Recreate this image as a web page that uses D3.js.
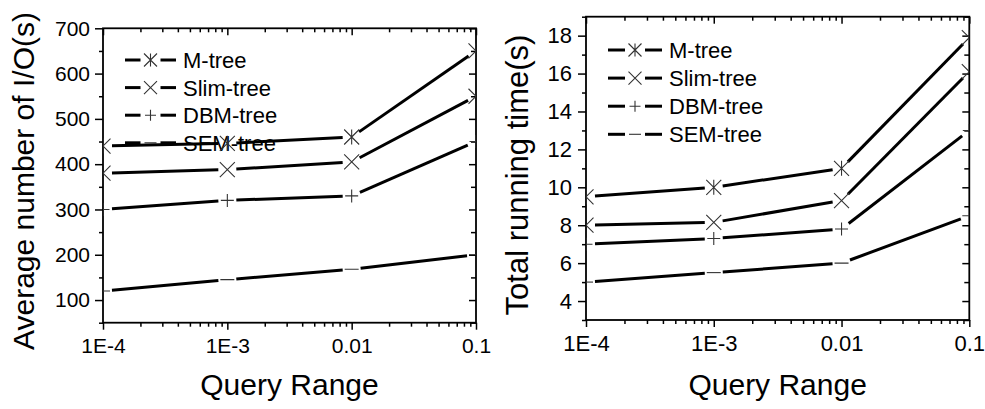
<!DOCTYPE html>
<html>
<head>
<meta charset="utf-8">
<script src="https://cdn.jsdelivr.net/npm/d3@7"></script>
<style>
  body { margin: 0; background: #fff; }
  svg { font-family: 'Liberation Sans', Arial, sans-serif; }
  .axis text { fill: #000; }
  .axis line { stroke: #000; stroke-width: 1.5; }
  .axis path { display: none; }
</style>
</head>
<body>
<div id="chart"></div>
<script>
// data
var queryRange = [1e-4, 1e-3, 0.01, 0.1];
var xTickLabels = ['1E-4', '1E-3', '0.01', '0.1'];
var seriesNames = ['M-tree', 'Slim-tree', 'DBM-tree', 'SEM-tree'];

var ioMtree = [440, 446, 460, 650];
var ioSlim = [380, 388, 405, 550];
var ioDbm = [300, 320, 330, 450];
var ioSem = [120, 145, 168, 200];
var ioTicks = [100, 200, 300, 400, 500, 600, 700];

var timeMtree = [9.5, 10.0, 11.0, 17.9];
var timeSlim = [8.0, 8.15, 9.3, 16.1];
var timeDbm = [7.0, 7.3, 7.8, 13.0];
var timeSem = [5.0, 5.5, 6.0, 8.5];
var timeTicks = [4, 6, 8, 10, 12, 14, 16, 18];

var svg = d3.select('#chart').append('svg')
  .attr('width', 985)
  .attr('height', 409);

// marker shapes, r = half size
var markers = {
  star: function (r) {
    return 'M' + (-r) + ',' + (-r) + 'L' + r + ',' + r +
      'M' + (-r) + ',' + r + 'L' + r + ',' + (-r) +
      'M0,' + (-r) + 'L0,' + r;
  },
  cross: function (r) {
    return 'M' + (-r) + ',' + (-r) + 'L' + r + ',' + r +
      'M' + (-r) + ',' + r + 'L' + r + ',' + (-r);
  },
  plus: function (r) {
    return 'M' + (-r) + ',0L' + r + ',0M0,' + (-r) + 'L0,' + r;
  },
  dash: function (r) {
    return 'M' + (-r) + ',0L' + r + ',0';
  },
};
var markerKinds = ['star', 'cross', 'plus', 'dash'];
var markerSizes = [7.5, 7.5, 6.5, 7];

// minor tick values on the log axis
var xMinor = [];
queryRange.slice(0, 3).forEach(function (d) {
  for (var k = 2; k <= 9; k++) xMinor.push(d * k);
});

function drawChart(cfg) {
  var x = d3.scaleLog().domain([1e-4, 0.1]).range([cfg.left, cfg.right]);
  var y = d3.scaleLinear().domain(cfg.yDomain).range([cfg.bottom, cfg.top]);
  var g = svg.append('g');
  var w = cfg.right - cfg.left;
  var h = cfg.bottom - cfg.top;

  var clipId = 'clip' + cfg.id;
  svg.append('clipPath').attr('id', clipId)
    .append('rect')
    .attr('x', cfg.left).attr('y', cfg.top)
    .attr('width', w).attr('height', h);

  // bottom axis (ticks outward) with labels
  g.append('g')
    .attr('class', 'axis')
    .attr('transform', 'translate(0,' + cfg.bottom + ')')
    .call(d3.axisBottom(x).tickValues(queryRange).tickSize(7).tickPadding(8)
      .tickFormat(function (d, i) { return xTickLabels[i]; }))
    .selectAll('text').style('font-size', cfg.tickFont + 'px');
  g.append('g')
    .attr('class', 'axis')
    .attr('transform', 'translate(0,' + cfg.bottom + ')')
    .call(d3.axisBottom(x).tickValues(xMinor).tickSize(4).tickFormat(''));

  // top axis (ticks inward)
  g.append('g')
    .attr('class', 'axis')
    .attr('transform', 'translate(0,' + cfg.top + ')')
    .call(d3.axisTop(x).tickValues(queryRange).tickSize(-7).tickFormat(''));
  g.append('g')
    .attr('class', 'axis')
    .attr('transform', 'translate(0,' + cfg.top + ')')
    .call(d3.axisTop(x).tickValues(xMinor).tickSize(-4).tickFormat(''));

  // left axis (ticks outward) with labels
  g.append('g')
    .attr('class', 'axis')
    .attr('transform', 'translate(' + cfg.left + ',0)')
    .call(d3.axisLeft(y).tickValues(cfg.yTicks).tickSize(8).tickPadding(cfg.yPad))
    .selectAll('text').style('font-size', cfg.tickFont + 'px');
  g.append('g')
    .attr('class', 'axis')
    .attr('transform', 'translate(' + cfg.left + ',0)')
    .call(d3.axisLeft(y).tickValues(cfg.yMinor).tickSize(4).tickFormat(''));

  // right axis (ticks inward)
  g.append('g')
    .attr('class', 'axis')
    .attr('transform', 'translate(' + cfg.right + ',0)')
    .call(d3.axisRight(y).tickValues(cfg.yTicks).tickSize(-7).tickFormat(''));
  g.append('g')
    .attr('class', 'axis')
    .attr('transform', 'translate(' + cfg.right + ',0)')
    .call(d3.axisRight(y).tickValues(cfg.yMinor).tickSize(-5).tickFormat(''));

  // frame
  g.append('rect')
    .attr('x', cfg.left).attr('y', cfg.top)
    .attr('width', w).attr('height', h)
    .style('fill', 'none')
    .style('stroke', '#000')
    .style('stroke-width', 1.8);

  // legend
  var leg = g.append('g');
  seriesNames.forEach(function (name, i) {
    var ly = cfg.legY + i * cfg.legStep;
    var mx = (cfg.legX0 + cfg.legX1) / 2;
    leg.append('line')
      .attr('x1', cfg.legX0).attr('x2', mx - 10)
      .attr('y1', ly).attr('y2', ly)
      .style('stroke', '#000').style('stroke-width', 3);
    leg.append('line')
      .attr('x1', mx + 10).attr('x2', cfg.legX1)
      .attr('y1', ly).attr('y2', ly)
      .style('stroke', '#000').style('stroke-width', 3);
    leg.append('path')
      .attr('transform', 'translate(' + mx + ',' + ly + ')')
      .attr('d', markers[markerKinds[i]](markerSizes[i] - 1))
      .style('fill', 'none').style('stroke', '#333').style('stroke-width', 1.1);
    leg.append('text')
      .attr('x', cfg.legX1 + 7)
      .attr('y', ly)
      .attr('dy', '0.36em')
      .style('font-size', cfg.legFont + 'px')
      .text(name);
  });

  // series: segments with a gap round each marker
  var plot = g.append('g').attr('clip-path', 'url(#' + clipId + ')');
  var gap = 9;
  cfg.series.forEach(function (vals, si) {
    var pts = vals.map(function (v, i) { return [x(queryRange[i]), y(v)]; });
    for (var i = 0; i < pts.length - 1; i++) {
      var a = pts[i], b = pts[i + 1];
      var dx = b[0] - a[0], dy = b[1] - a[1];
      var len = Math.sqrt(dx * dx + dy * dy);
      plot.append('line')
        .attr('x1', a[0] + dx / len * gap).attr('y1', a[1] + dy / len * gap)
        .attr('x2', b[0] - dx / len * gap).attr('y2', b[1] - dy / len * gap)
        .style('stroke', '#000').style('stroke-width', 3);
    }
    plot.selectAll(null)
      .data(pts)
      .enter().append('path')
      .attr('transform', function (d) { return 'translate(' + d[0] + ',' + d[1] + ')'; })
      .attr('d', markers[markerKinds[si]](markerSizes[si]))
      .style('fill', 'none').style('stroke', '#333').style('stroke-width', 1.1);
  });

  // axis titles
  g.append('text')
    .attr('x', (cfg.left + cfg.right) / 2)
    .attr('y', 395)
    .style('text-anchor', 'middle')
    .style('font-size', '30px')
    .text('Query Range');

  g.append('text')
    .attr('transform', 'translate(' + cfg.titleX + ',' + cfg.titleY + ') rotate(-90)')
    .style('text-anchor', 'middle')
    .style('font-size', cfg.titleFont + 'px')
    .text(cfg.yTitle);
}

drawChart({
  id: 'io',
  left: 103, right: 476, top: 28.3, bottom: 322.7,
  yDomain: [50, 700],
  yTicks: ioTicks,
  yMinor: [50, 150, 250, 350, 450, 550, 650],
  yPad: 5,
  tickFont: 21,
  series: [ioMtree, ioSlim, ioDbm, ioSem],
  legX0: 125, legX1: 176, legY: 60, legStep: 27.6, legFont: 22,
  yTitle: 'Average number of I/O(s)',
  titleX: 34, titleY: 181, titleFont: 30,
});

drawChart({
  id: 'time',
  left: 586, right: 969.3, top: 16.7, bottom: 320,
  yDomain: [3, 19],
  yTicks: timeTicks,
  yMinor: [3, 5, 7, 9, 11, 13, 15, 17, 19],
  yPad: 6,
  tickFont: 22,
  series: [timeMtree, timeSlim, timeDbm, timeSem],
  legX0: 608, legX1: 662, legY: 50, legStep: 28.1, legFont: 22,
  yTitle: 'Total running time(s)',
  titleX: 528, titleY: 175, titleFont: 31,
});
</script>
</body>
</html>
